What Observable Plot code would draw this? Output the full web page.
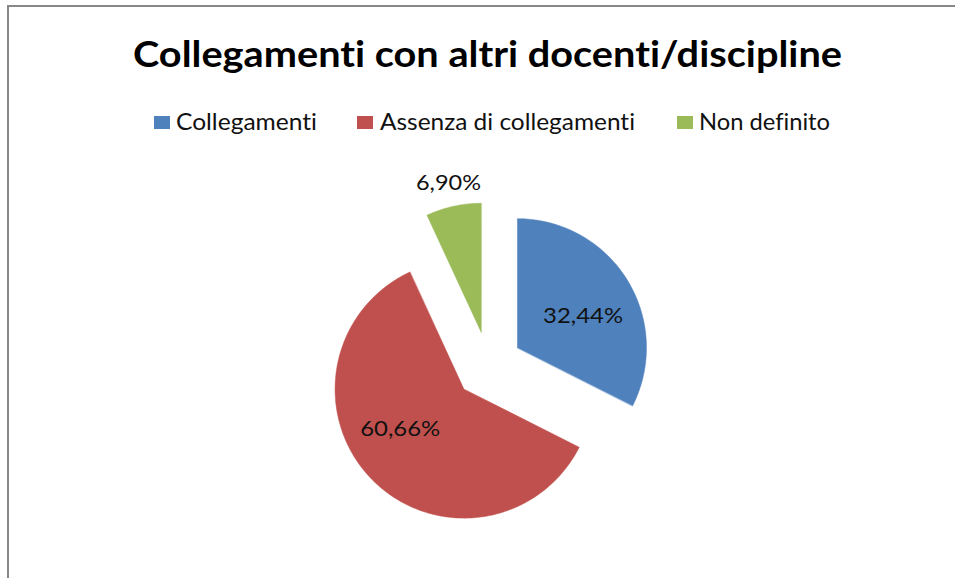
<!DOCTYPE html>
<html><head><meta charset="utf-8">
<script src="https://cdn.jsdelivr.net/npm/d3@7"></script>
<script src="https://cdn.jsdelivr.net/npm/@observablehq/plot@0.6"></script>
<style>
html,body{margin:0;padding:0;background:#fff;overflow:hidden;width:955px;height:578px;}
#frame{position:absolute;left:7px;top:5px;width:960px;height:600px;border-left:2px solid #878787;border-top:2px solid #878787;}
#header{position:absolute;left:0;top:0;}
#chart{position:absolute;left:0;top:150px;}
text{font-variant-ligatures:none;font-feature-settings:"liga" 0;}
</style></head>
<body>
<div id="frame"></div>
<div id="header"></div>
<div id="chart"></div>
<script>
// ---- data ----
const chartTitle = "Collegamenti con altri docenti/discipline";
const categories = ["Collegamenti", "Assenza di collegamenti", "Non definito"];
const values = [32.44, 60.66, 6.90];
const valueLabels = ["32,44%", "60,66%", "6,90%"];

// ---- styles / layout ----
const colors = ["#4F81BD", "#C0504D", "#9BBB59"];
const FONT = "Lato, 'Open Sans', sans-serif";
const W = 955, HEADER_H = 150, PLOT_H = 428;
const R = 129;               // pie radius in px
const CX = 488, CY = 365;    // pie centre in page px
const EXPLODE = 34 / R;      // explosion distance in radius units
const legendLayout = [
  {kx: 154, tx: 176, len: 141},
  {kx: 357, tx: 380, len: 255},
  {kx: 677, tx: 699, len: 131}
];
const labelNudge = [{dx: 3, dy: 7, len: 80}, {dx: -11, dy: -11, len: 80}, {dx: 0, dy: 0, len: 65}];

// ---- header (title + legend) ----
const hs = d3.select("#header").append("svg").attr("width", W).attr("height", HEADER_H);
hs.append("text").text(chartTitle)
  .attr("x", 487.5).attr("y", 66.5).attr("text-anchor", "middle")
  .attr("font-family", FONT).attr("font-weight", 700).attr("font-size", 36)
  .attr("textLength", 709).attr("lengthAdjust", "spacingAndGlyphs").attr("fill", "#000");
categories.forEach((c, i) => {
  const L = legendLayout[i];
  hs.append("rect").attr("x", L.kx).attr("y", 116).attr("width", 16).attr("height", 13).attr("fill", colors[i]);
  hs.append("text").text(c).attr("x", L.tx).attr("y", 130)
    .attr("font-family", FONT).attr("font-size", 23)
    .attr("textLength", L.len).attr("lengthAdjust", "spacingAndGlyphs").attr("fill", "#111");
});

// ---- pie geometry from data ----
const arcs = d3.pie().sort(null).value(d => d.value)(categories.map((c, i) => ({cat: c, value: values[i], i})));
const slices = arcs.map(a => {
  const m = (a.startAngle + a.endAngle) / 2;
  const ox = EXPLODE * Math.sin(m), oy = EXPLODE * Math.cos(m);
  const n = Math.max(8, Math.ceil((a.endAngle - a.startAngle) / (Math.PI / 180)));
  const pts = [{x: ox, y: oy}];
  for (let k = 0; k <= n; k++) {
    const t = a.startAngle + (a.endAngle - a.startAngle) * k / n;
    pts.push({x: ox + Math.sin(t), y: oy + Math.cos(t)});
  }
  const kr = a.data.value < 10 ? 1.18 : 0.57;
  const label = {x: ox + kr * Math.sin(m), y: oy + kr * Math.cos(m), text: valueLabels[a.data.i], i: a.data.i};
  return {pts, label, i: a.data.i};
});

const top0 = HEADER_H;
const xDomain = [-CX / R, (W - CX) / R];
const yDomain = [-(top0 + PLOT_H - CY) / R, (CY - top0) / R];

const plot = Plot.plot({
  width: W, height: PLOT_H, margin: 0,
  x: {domain: xDomain, axis: null},
  y: {domain: yDomain, axis: null},
  style: {background: "transparent", fontFamily: FONT},
  marks: [
    ...slices.map(s => Plot.line(s.pts, {x: "x", y: "y", fill: colors[s.i], stroke: colors[s.i], strokeWidth: 0.5, curve: "linear-closed"})),
    ...slices.map(s => Plot.text([s.label], {x: "x", y: "y", text: "text", fontSize: 21, fill: "#111",
      textAnchor: "middle", lineAnchor: "middle", dx: labelNudge[s.i].dx, dy: labelNudge[s.i].dy}))
  ]
});
d3.select(plot).selectAll("text").each(function(d, j) {
  d3.select(this).attr("textLength", labelNudge[j].len).attr("lengthAdjust", "spacingAndGlyphs");
});
document.getElementById("chart").appendChild(plot);
</script>
</body></html>
